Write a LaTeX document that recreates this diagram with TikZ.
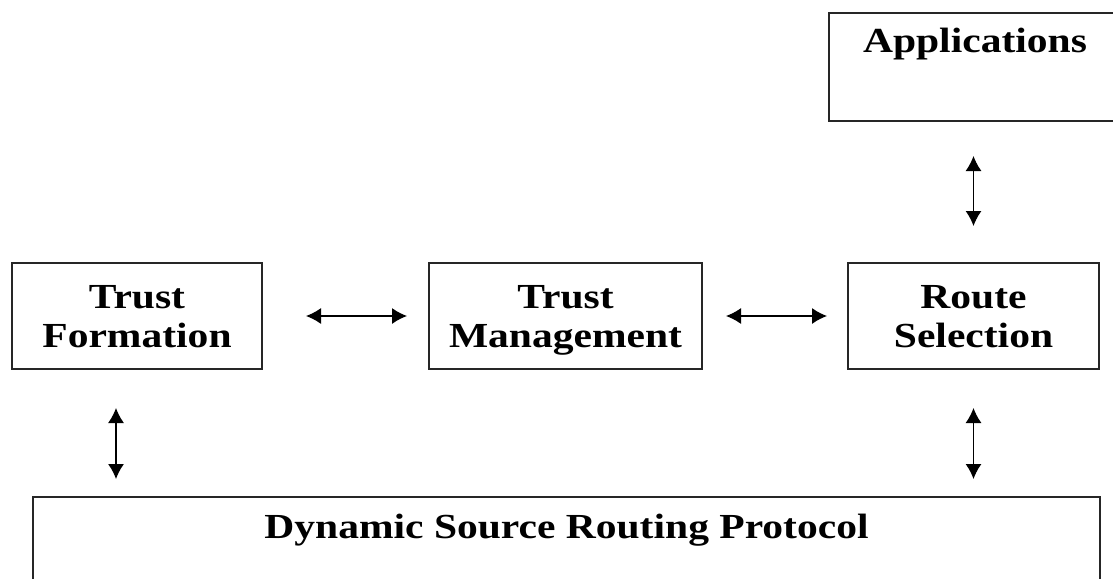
\documentclass[tikz,border=0pt]{standalone}
\usepackage{fontspec}
\newfontfamily\diagfont[FakeStretch=1.18]{Liberation Serif}
\usetikzlibrary{positioning}
\usetikzlibrary{arrows.meta,calc}

\tikzset{
  block/.style={draw=black!85, line width=1pt, inner sep=0pt, align=center, text depth=0pt,
    font=\diagfont\bfseries\fontsize{17.6}{19.5}\selectfont},
  blocktext/.style={inner sep=0pt, font=\diagfont\bfseries\fontsize{17.6}{19.5}\selectfont},
  link/.style={{Latex[length=7.5pt,width=8pt]}-{Latex[length=7.5pt,width=8pt]}, line width=0.65pt}
}

\begin{document}
\begin{tikzpicture}[x=0.5pt, y=-0.5pt]
\clip (0,0) rectangle (1113,578);

% boxes of the middle row
\node [block, minimum width=125pt, minimum height=53pt] (tf) at (137,316) {Trust\\Formation};
\node [block, minimum width=136.5pt, minimum height=53pt] (tm) at (565.5,316) {Trust\\Management};
\node [block, minimum width=125.5pt, minimum height=53pt] (rs) at (973.5,316) {Route\\Selection};

% top and bottom boxes, cut by the edge
\node [block, minimum width=146pt, minimum height=54pt, anchor=north west] (app) at (828,12) {};
\node [blocktext, below=8pt of app.north] (apptext) {Applications};
\node [block, minimum width=533.5pt, minimum height=60pt, anchor=north west] (dsr) at (32,496) {};
\node [blocktext, below=9pt of dsr.north] (dsrtext) {Dynamic Source Routing Protocol};

\draw [link, shorten <=21.5pt, shorten >=10.5pt] (tf) -- (tm);
\draw [link, shorten <=11.5pt, shorten >=10pt] (tm) -- (rs);
\draw [link, shorten <=17pt, shorten >=18pt] (app.south -| rs.north) -- (rs.north);
\draw [link, shorten <=19pt, shorten >=8.5pt] ([xshift=-10.5pt]tf.south) -- ([xshift=-10.5pt]tf.south |- dsr.north);
\draw [link, shorten <=19pt, shorten >=8.5pt] (rs.south) -- (rs.south |- dsr.north);
\end{tikzpicture}
\end{document}
